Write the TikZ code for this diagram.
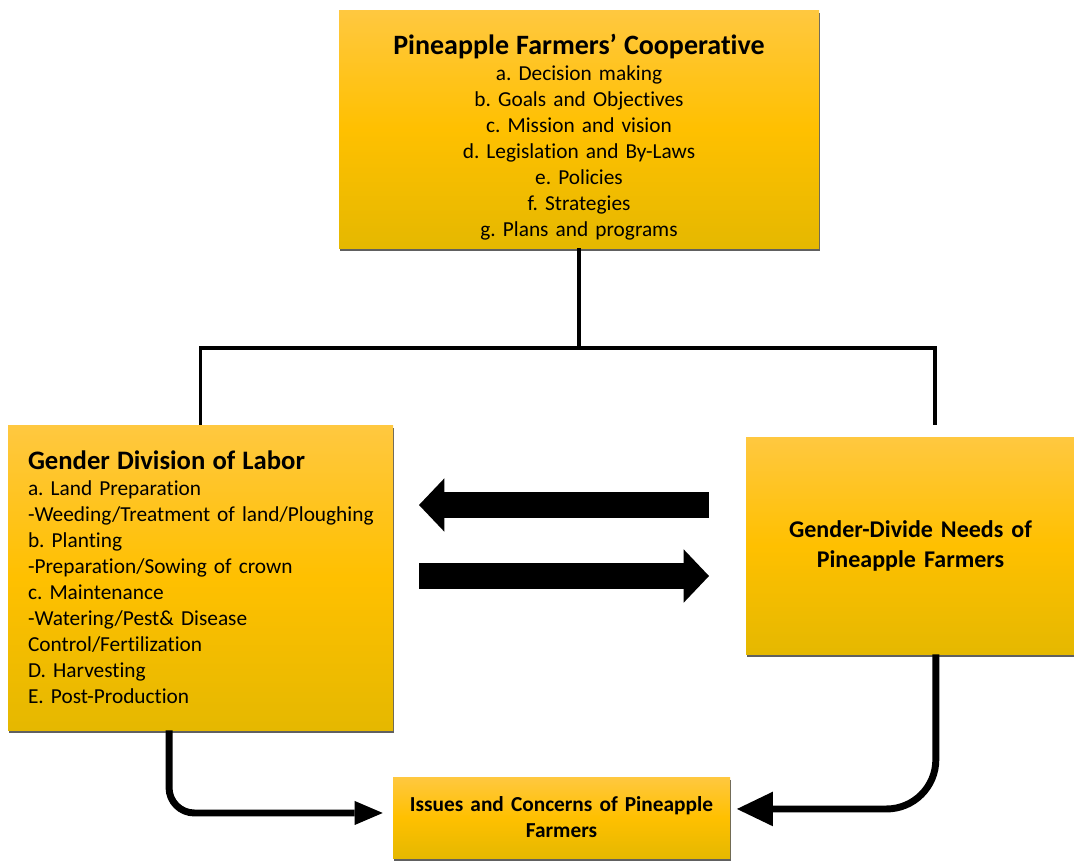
\documentclass[tikz,border=0pt]{standalone}
\usepackage{fontspec}
\setmainfont{Carlito}[Ligatures=NoCommon]
\usetikzlibrary{shapes,arrows.meta,positioning,shadows}
\frenchspacing
\definecolor{goldTop}{RGB}{255,200,64}
\definecolor{goldMid}{RGB}{255,192,0}
\definecolor{goldBot}{RGB}{229,184,0}
\definecolor{shadowGray}{RGB}{96,96,96}
\tikzstyle{Block} = [rectangle, inner sep=0pt, top color=goldTop, bottom color=goldBot, middle color=goldMid, drop shadow={shadow xshift=0.4pt, shadow yshift=-2.2pt, fill=shadowGray, opacity=1}]
\tikzstyle{Body} = [font=\fontsize{16}{19.5}\selectfont]
\tikzstyle{Tree} = [line width=2.8pt]
\tikzstyle{FlowA} = [line width=5.2pt, -{Triangle[length=21pt, width=18pt, line width=0pt]}, shorten >=7.5pt, rounded corners=19pt]
\tikzstyle{FlowB} = [line width=5.2pt, -{Triangle[length=27pt, width=26pt, line width=0pt]}, shorten >=5pt, rounded corners=37pt]
\tikzstyle{BigArrow} = [line width=19pt, -{Triangle[length=19pt, width=40pt, line width=0pt]}]

\begin{document}
\begin{tikzpicture}[x=0.75pt, y=-0.75pt]
    \useasboundingbox (0,0) rectangle (1074,861);
    \node[Block, Body, minimum width=360pt, minimum height=178.5pt, text width=340pt, align=center] (coop) at (579,129)
        {{\fontsize{21}{25}\selectfont\bfseries\rule{0pt}{27pt}Pineapple Farmers' Cooperative}\\
         a. Decision making\\ b. Goals and Objectives\\ c. Mission and vision\\ d. Legislation and By-Laws\\
         e. Policies\\ f. Strategies\\ g. Plans and programs};
    \node[Block, Body, minimum width=288.75pt, minimum height=228.75pt, text width=258.75pt, align=left] (labor) at (200.5,577.5)
        {{\fontsize{20}{24}\selectfont\bfseries Gender Division of Labor}\\
         a. Land Preparation\\ \mbox{-Weeding/Treatment of land/Ploughing}\\ b. Planting\\ -Preparation/Sowing of crown\\
         c. Maintenance\\ -Watering/Pest\& Disease\\ Control/Fertilization\\ D. Harvesting\\ E. Post-Production};
    \node[Block, minimum width=246.75pt, minimum height=162.75pt, text width=230pt, align=center, font=\fontsize{18}{22.5}\selectfont\bfseries] (needs) at (910.5,545.5)
        {Gender-Divide Needs of\\ Pineapple Farmers};
    \node[Block, minimum width=252.75pt, minimum height=60.75pt, text width=240pt, align=center, font=\fontsize{16}{19.5}\selectfont\bfseries] (issues) at (561.5,817.5)
        {Issues and Concerns of Pineapple\\ Farmers};

    % tree from the cooperative
    \coordinate (needsTop) at (935,425);
    \draw[Tree] (coop.south) -- ++(0,100) coordinate (fork);
    \draw[Tree] (labor.north) |- (fork) -| (needsTop);

    % block arrows between the two boxes
    \coordinate (backStart) at (709,505);
    \coordinate (backEnd)   at (419,505);
    \coordinate (fwdStart)  at (419,576);
    \coordinate (fwdEnd)    at (709,576);
    \draw[BigArrow] (backStart) to (backEnd);
    \draw[BigArrow] (fwdStart) to (fwdEnd);

    % down to the issues
    \draw[FlowA] ([xshift=-23.6pt]labor.south) |- ([yshift=3.4pt]issues.west);
    \draw[FlowB] ([xshift=19pt]needs.south) |- ([yshift=6.4pt]issues.east);
\end{tikzpicture}
\end{document}
